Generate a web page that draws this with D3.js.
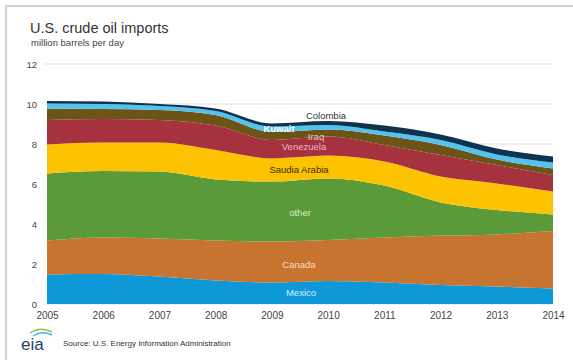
<!DOCTYPE html>
<html><head><meta charset="utf-8">
<script src="https://cdn.jsdelivr.net/npm/d3@7"></script>
<style>body{margin:0;background:#fff}svg{display:block}text{font-family:Arial,"Liberation Sans",sans-serif}</style>
</head><body>
<svg id="c" width="573" height="360"></svg>
<script>
const years = [2005,2006,2007,2008,2009,2010,2011,2012,2013,2014];
const seriesNames = ["Mexico","Canada","other","Saudia Arabia","Venezuela","Iraq","Kuwait","Colombia"];
const mexico    = [1.48,1.50,1.37,1.17,1.08,1.15,1.07,0.95,0.87,0.78];
const canada    = [1.69,1.82,1.91,2.00,2.04,2.05,2.25,2.47,2.61,2.87];
const other     = [3.36,3.33,3.34,3.06,3.00,3.08,2.60,1.66,1.22,0.83];
const saudi     = [1.45,1.42,1.45,1.47,1.16,1.14,1.20,1.29,1.33,1.14];
const venezuela = [1.22,1.18,1.13,1.22,0.92,0.95,0.83,1.08,0.92,0.83];
const iraq      = [0.58,0.50,0.50,0.53,0.40,0.35,0.47,0.50,0.27,0.33];
const kuwait    = [0.25,0.25,0.20,0.20,0.27,0.23,0.20,0.25,0.26,0.29];
const colombia  = [0.12,0.12,0.10,0.13,0.16,0.20,0.30,0.28,0.30,0.30];
const yTicks = [0,2,4,6,8,10,12];
const colors = ["#0f98d8","#c6742f","#5b9a38","#fec300","#a6323f","#6b5416","#52c3ee","#0c3350"];

const seriesValues = [mexico,canada,other,saudi,venezuela,iraq,kuwait,colombia];
const table = years.map((y,i)=>{const r={year:y}; seriesNames.forEach((n,k)=>r[n]=seriesValues[k][i]); return r;});

const svg = d3.select("#c");
// frame
svg.append("rect").attr("x",6).attr("y",6).attr("width",600).attr("height",400)
  .attr("fill","none").attr("stroke","#d2d2d2").attr("stroke-width",2);

const x = d3.scaleLinear().domain([2005,2014]).range([47,553]);
const y = d3.scaleLinear().domain([0,12]).range([304,64]);

// grid
svg.append("g").selectAll("line").data(yTicks).join("line")
  .attr("x1",45).attr("x2",553).attr("y1",d=>y(d)).attr("y2",d=>y(d))
  .attr("stroke","#e8e8e8").attr("stroke-width",1.5);

const stack = d3.stack().keys(seriesNames)(table);
const area = d3.area().x(d=>x(d.data.year)).y0(d=>y(d[0])).y1(d=>y(d[1])).curve(d3.curveMonotoneX);
svg.append("g").selectAll("path").data(stack).join("path")
  .attr("d",area).attr("fill",(d,i)=>colors[i]);

// y axis
const ya = svg.append("g").attr("transform","translate(37,0)")
  .call(d3.axisLeft(y).tickValues(yTicks).tickSize(0).tickPadding(0));
ya.select(".domain").remove();
ya.selectAll("text").attr("font-size",9.5).attr("fill","#444").attr("font-family","Arial, Liberation Sans, sans-serif");

// x axis
const xa = svg.append("g").attr("transform","translate(0,311)")
  .call(d3.axisBottom(x).tickValues(years).tickFormat(d3.format("d")).tickSize(0).tickPadding(0));
xa.select(".domain").remove();
xa.selectAll("text").attr("font-size",10).attr("fill","#444").attr("dy","0.8em").attr("font-family","Arial, Liberation Sans, sans-serif");

// titles
svg.append("text").attr("x",30).attr("y",33).attr("font-size",14.5).attr("fill","#333").text("U.S. crude oil imports");
svg.append("text").attr("x",31).attr("y",46).attr("font-size",9.5).attr("fill","#444").text("million barrels per day");

// labels
const labels = [
  {t:"Colombia",x:326,y:119,c:"#333",w:"normal"},
  {t:"Kuwait",x:279,y:132,c:"#ffffff",w:"bold"},
  {t:"Iraq",x:316,y:140,c:"#d8d0b8",w:"normal"},
  {t:"Venezuela",x:304,y:150,c:"#f2b6c8",w:"normal"},
  {t:"Saudia Arabia",x:299,y:173,c:"#3a2c00",w:"normal"},
  {t:"other",x:300,y:216,c:"#dbeccb",w:"normal"},
  {t:"Canada",x:299,y:268,c:"#f8dcc0",w:"normal"},
  {t:"Mexico",x:301,y:296,c:"#d6efff",w:"normal"}
];
svg.append("g").selectAll("text").data(labels).join("text")
  .attr("x",d=>d.x).attr("y",d=>d.y).attr("text-anchor","middle")
  .attr("font-size",9.5).attr("font-weight",d=>d.w).attr("fill",d=>d.c).text(d=>d.t);

// logo
const lg = svg.append("g");
lg.append("path").attr("d","M30,333 Q40,326 52,332").attr("fill","none").attr("stroke","#8cc63f").attr("stroke-width",1.5);
lg.append("path").attr("d","M33,336 Q42,330 52,335").attr("fill","none").attr("stroke","#4fb3e0").attr("stroke-width",1.5);
lg.append("text").attr("x",21).attr("y",350).attr("font-family","DejaVu Serif, Liberation Serif, serif")
  .attr("font-size",17).attr("fill","#1f3f6a").text("eia");
svg.append("text").attr("x",63).attr("y",346).attr("font-size",8).attr("fill","#333")
  .text("Source: U.S. Energy Information Administration");
</script>
</body></html>
